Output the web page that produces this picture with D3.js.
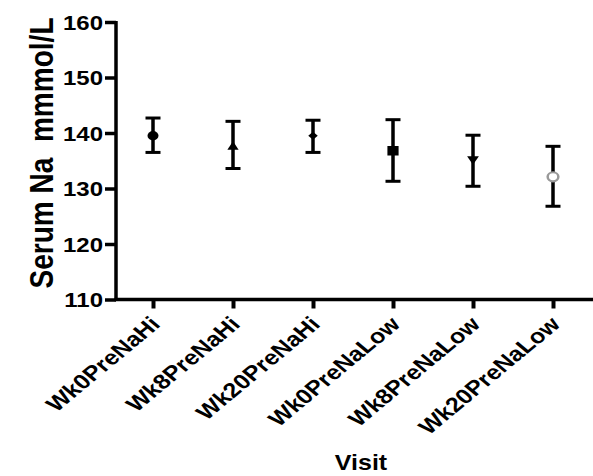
<!DOCTYPE html>
<html>
<head>
<meta charset="utf-8">
<script src="https://cdn.jsdelivr.net/npm/d3@7"></script>
<style>
  body { margin: 0; background: #fff; }
  svg text { font-family: "Liberation Sans", Arial, sans-serif; font-weight: bold; fill: #000; }
</style>
</head>
<body>
<div id="chart"></div>
<script>
// visit groups and their mean / error bar ends
var visits = ["Wk0PreNaHi", "Wk8PreNaHi", "Wk20PreNaHi", "Wk0PreNaLow", "Wk8PreNaLow", "Wk20PreNaLow"];
var means  = [139.5, 137.5, 139.5, 136.8, 135.3, 132.1];
var upper  = [142.7, 142.1, 142.3, 142.4, 139.6, 137.6];
var lower  = [136.5, 133.6, 136.5, 131.3, 130.4, 126.8];
var yTicks = [110, 120, 130, 140, 150, 160];

var width = 593, height = 476;
var squash = 0.85; // the original is a bit flattened vertically

var svg = d3.select("#chart").append("svg")
    .attr("width", width)
    .attr("height", height);

// scales
var xScale = d3.scalePoint().domain(visits).range([113, 593]).padding(0.5),
    yScale = d3.scaleLinear().domain([110, 160]).range([299.5, 22]);

// y axis
var yAxisEl = svg.append("g")
    .attr("transform", "translate(116,0)")
    .call(d3.axisLeft(yScale).tickValues(yTicks).tickSize(11).tickPadding(2).tickSizeOuter(0));
yAxisEl.select(".domain").attr("stroke-width", 3.5).attr("d", "M0," + (yScale(160) - 1) + "V" + (yScale(110) + 1.5));
yAxisEl.selectAll(".tick line").attr("stroke-width", 3.5);
yAxisEl.selectAll(".tick text")
    .attr("font-size", 24)
    .attr("dy", "0.36em")
    .attr("transform", "scale(1," + squash + ")");

// x axis
var xAxisEl = svg.append("g")
    .attr("transform", "translate(0," + yScale(110) + ")")
    .call(d3.axisBottom(xScale).tickSize(9).tickSizeOuter(0));
xAxisEl.select(".domain").attr("stroke-width", 3.5).attr("d", "M114.5,0H593");
xAxisEl.selectAll(".tick line").attr("stroke-width", 4);
xAxisEl.selectAll(".tick text")
    .attr("font-size", 25)
    .attr("text-anchor", "end")
    .attr("transform", "translate(8,26) scale(1,0.83) rotate(-45)")
    .attr("x", 0).attr("y", 0).attr("dy", 0);

// error bars
var bars = svg.append("g").selectAll("g")
    .data(visits)
    .enter().append("g");

bars.append("line")
    .attr("x1", function (d) { return xScale(d); })
    .attr("x2", function (d) { return xScale(d); })
    .attr("y1", function (d, i) { return yScale(upper[i]); })
    .attr("y2", function (d, i) { return yScale(lower[i]); })
    .attr("stroke", "#000").attr("stroke-width", 3.5);

[upper, lower].forEach(function (arr) {
  bars.append("line")
      .attr("x1", function (d) { return xScale(d) - 7.5; })
      .attr("x2", function (d) { return xScale(d) + 7.5; })
      .attr("y1", function (d, i) { return yScale(arr[i]); })
      .attr("y2", function (d, i) { return yScale(arr[i]); })
      .attr("stroke", "#000").attr("stroke-width", 3);
});

// markers
var symbols = [d3.symbolCircle, d3.symbolTriangle, d3.symbolSquare, d3.symbolSquare, d3.symbolTriangle, d3.symbolCircle];
var sizes = [95, 55, 45, 125, 60, 90];
var rotations = [0, 0, 45, 0, 180, 0];

bars.append("path")
    .attr("d", function (d, i) { return d3.symbol().type(symbols[i]).size(sizes[i])(); })
    .attr("transform", function (d, i) {
      return "translate(" + xScale(d) + "," + yScale(means[i]) + ") scale(1," + squash + ") rotate(" + rotations[i] + ")";
    })
    .attr("fill", function (d, i) { return i === 5 ? "#fff" : "#000"; })
    .attr("stroke", function (d, i) { return i === 5 ? "#999" : "none"; })
    .attr("stroke-width", 2.5);

// axis titles
svg.append("text")
    .attr("transform", "translate(53,153) scale(1," + squash + ") rotate(-90)")
    .attr("text-anchor", "middle")
    .attr("font-size", 33)
    .attr("xml:space", "preserve")
    .text("Serum Na  mmmol/L");

svg.append("text")
    .attr("transform", "translate(361,470) scale(1," + squash + ")")
    .attr("text-anchor", "middle")
    .attr("font-size", 25)
    .text("Visit");
</script>
</body>
</html>
